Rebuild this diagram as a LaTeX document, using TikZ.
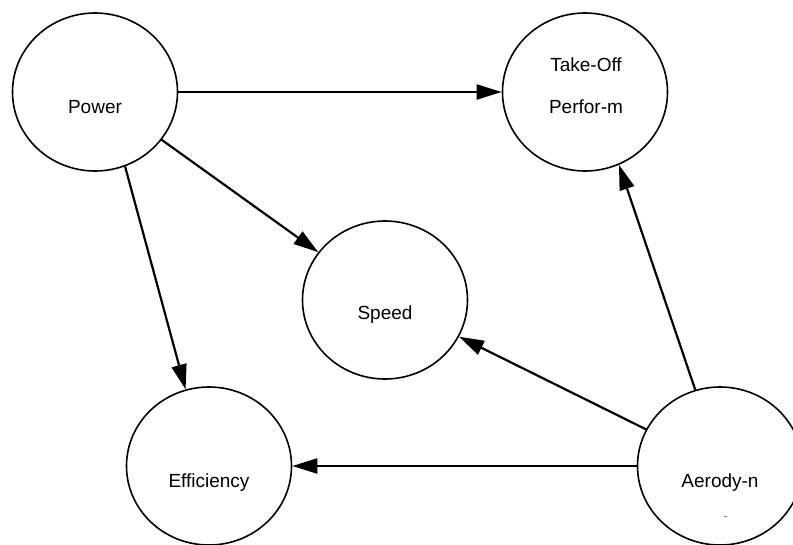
\documentclass[tikz,border=0pt]{standalone}
\usepackage{fontspec}
\setmainfont{Liberation Sans}
\usetikzlibrary{shapes.geometric,arrows.meta}
\begin{document}
\begin{tikzpicture}[x=1pt,y=-1pt,
  circ/.style={draw,line width=1.6pt,ellipse,minimum width=165pt,minimum height=158pt,inner sep=0pt},
  lbl/.style={font=\fontsize{19}{21}\selectfont,inner sep=0pt},
  conn/.style={line width=2.2pt,-{Triangle[length=25pt,width=15pt]}}]
  \useasboundingbox (0,0) rectangle (793,544);
  \clip (0,0) rectangle (793,544);
  % circles
  \node[circ] (power) at (95,92) {};
  \node[circ] (takeoff) at (585,92) {};
  \node[circ] (speed) at (385,300) {};
  \node[circ] (eff) at (209,466) {};
  \node[circ] (aero) at (720,466) {};
  % labels
  \node[lbl] (tpower) at (95,107) {Power};
  \node[lbl] (ttake1) at (586,65) {Take-Off};
  \node[lbl] (ttake2) at (586,107) {Perfor-m};
  \node[lbl] (tspeed) at (385,315) {Speed};
  \node[lbl] (teff) at (209,483) {Efficiency};
  \node[lbl] (taero) at (720,483) {Aerody-n};
  \fill[gray] (724,515.5) rectangle (726.5,516.5);
  % connectors
  \draw[conn] (power) -- (takeoff);
  \draw[conn] (power) -- (speed);
  \draw[conn] (power.-68) -- (eff.107);
  \draw[conn] (aero.108) -- (takeoff.-65);
  \draw[conn] (aero) -- (speed);
  \draw[conn] (aero) -- (eff);
\end{tikzpicture}
\end{document}
